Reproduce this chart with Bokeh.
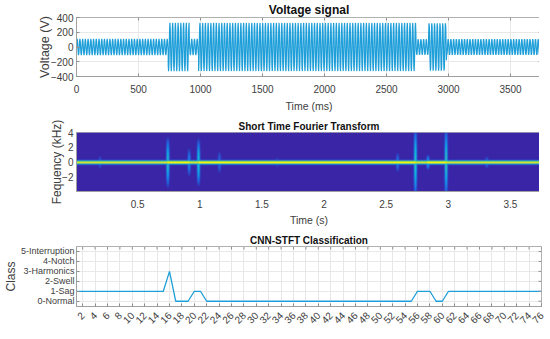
from bokeh.plotting import figure
from bokeh.layouts import column
from bokeh.models import FixedTicker, Range1d
from bokeh.embed import file_html
from bokeh.resources import INLINE
import numpy as np

# Voltage signal: envelope
seg_start_ms = [0, 740, 910, 985, 2740, 2840, 2985]
seg_end_ms = [740, 910, 985, 2740, 2840, 2985, 3750]
seg_amp_v = [110, 330, 110, 330, 110, 330, 110]
cycle_ms = 22.0
volt_xticks = [0, 500, 1000, 1500, 2000, 2500, 3000, 3500]
volt_yticks = [-400, -200, 0, 200, 400]

# STFT: ridge events
spike_t = [0.19, 0.74, 0.91, 0.985, 1.16, 1.62, 2.59, 2.74, 2.84, 2.985, 3.31]
spike_reach_khz = [1.0, 3.6, 2.0, 3.4, 1.6, 0.8, 1.4, 5.0, 1.1, 5.0, 0.9]
spike_level = [0.25, 0.62, 0.42, 0.62, 0.3, 0.2, 0.35, 0.65, 0.5, 0.65, 0.32]

# Classification
win = list(range(1, 77))
cls = [1]*15 + [3, 0, 0, 0, 1, 1] + [0]*34 + [1, 1, 1, 0, 0] + [1]*16
class_labels = {0: "0-Normal", 1: "1-Sag", 2: "2-Swell", 3: "3-Harmonics", 4: "4-Notch", 5: "5-Interruption"}
win_ticks = list(range(2, 77, 2))

FONT = "Liberation Sans"
TXT = "#404040"
BLUE = "#1f9fd9"
TICK = "#909090"

def style(p, title, tsize):
    p.title.text = title
    p.title.align = "center"
    p.title.text_font = FONT
    p.title.text_font_size = tsize
    p.title.text_color = "#111111"
    p.title.standoff = 1
    p.min_border_left = 68
    p.min_border_right = 6
    for ax in p.axis:
        ax.major_label_text_font = FONT
        ax.major_label_text_font_size = "10px"
        ax.major_label_text_color = TXT
        ax.axis_label_text_font = FONT
        ax.axis_label_text_font_size = "10.5px"
        ax.axis_label_text_font_style = "normal"
        ax.axis_label_text_color = TXT
        ax.axis_line_color = "#a0a0a0"
        ax.major_tick_line_color = TICK
        ax.major_tick_in = 3
        ax.major_tick_out = 0
        ax.minor_tick_line_color = None
        ax.major_label_standoff = 3
        ax.axis_label_standoff = 0
    p.xaxis.major_label_standoff = 8
    p.xaxis.axis_label_standoff = 4
    p.grid.grid_line_color = "#e8e8e8"
    p.outline_line_color = "#b0b0b0"

def mirror(p, xticks, yticks, xlo, xhi, ylo, yhi, wpx, hpx):
    # tick marks on the top and right edges of the box
    dy = 3 * (yhi - ylo) / hpx
    dx = 3 * (xhi - xlo) / wpx
    p.segment(xticks, [yhi] * len(xticks), xticks, [yhi - dy] * len(xticks), line_color=TICK, line_width=1)
    p.segment([xhi] * len(yticks), yticks, [xhi - dx] * len(yticks), yticks, line_color=TICK, line_width=1)

FW = 465
# --- top
p1 = figure(frame_width=FW, frame_height=59, output_backend="svg", toolbar_location=None,
            x_range=Range1d(0, 3750), y_range=Range1d(-400, 400),
            x_axis_label="Time (ms)", y_axis_label="Voltage (V)",
            min_border_top=17, min_border_bottom=37)
xs, ys = [], []
for a, b, amp in zip(seg_start_ms, seg_end_ms, seg_amp_v):
    t = np.arange(a, b, cycle_ms / 8)
    xs.extend(t.tolist())
    ys.extend((amp * np.sin(2 * np.pi * t / cycle_ms)).tolist())
p1.line(xs, ys, line_color=BLUE, line_width=1.2)
style(p1, "Voltage signal", "12px")
p1.xaxis.ticker = FixedTicker(ticks=volt_xticks)
p1.yaxis.ticker = FixedTicker(ticks=volt_yticks)
p1.yaxis.axis_label_text_font_size = "12.5px"
p1.yaxis.axis_label_standoff = -4
mirror(p1, volt_xticks, volt_yticks, 0, 3750, -400, 400, 465, 59)

# --- middle
p2 = figure(frame_width=FW, frame_height=59, output_backend="svg", toolbar_location=None,
            x_range=Range1d(0.007, 3.75), y_range=Range1d(-3.9, 4),
            x_axis_label="Time (s)", y_axis_label="Fequency (kHz)",
            min_border_top=18, min_border_bottom=37)
nt, nf = 470, 120
tt = np.linspace(0.007, 3.75, nt)
ff = np.linspace(-3.9, 4, nf)
T, F = np.meshgrid(tt, ff)
Z = 0.02 + 0 * T
for t0, reach, lev in zip(spike_t, spike_reach_khz, spike_level):
    Z = np.maximum(Z, lev * np.exp(-((T - t0) / 0.012) ** 2) * np.clip(1 - (np.abs(F) / reach) ** 2, 0, 1))
core = 0.86 + 0 * T
for a, b, amp in zip(seg_start_ms, seg_end_ms, seg_amp_v):
    core[(T >= a / 1000) & (T < b / 1000)] = 1.0 if amp > 200 else 0.9
Z = np.maximum(Z, core * np.minimum(1.0, 1.5 * np.exp(-(F / 0.24) ** 2)))
stops = [0, 0.3, 0.55, 0.75, 0.88, 1]
cols = np.array([[0x3b, 0x20, 0xa2], [0x1f, 0x6f, 0xe8], [0x10, 0xb8, 0xd8], [0x70, 0xd0, 0x70], [0xc8, 0xe0, 0x30], [0xf5, 0xf0, 0x10]])
rgb = np.stack([np.interp(Z, stops, cols[:, i]) for i in range(3)], axis=-1).astype(np.uint8)
img = np.zeros((nf, nt), dtype=np.uint32)
view = img.view(dtype=np.uint8).reshape((nf, nt, 4))
view[..., :3] = rgb
view[..., 3] = 255
p2.image_rgba(image=[img], x=0.007, y=-3.9, dw=3.743, dh=7.9)
style(p2, "Short Time Fourier Transform", "10px")
p2.xaxis.ticker = FixedTicker(ticks=[0.5, 1, 1.5, 2, 2.5, 3, 3.5])
p2.xaxis.major_label_overrides = {0.5: "0.5", 1: "1", 1.5: "1.5", 2: "2", 2.5: "2.5", 3: "3", 3.5: "3.5"}
p2.xaxis.major_label_standoff = 8
p2.xaxis.axis_label_standoff = 3
p2.yaxis.ticker = FixedTicker(ticks=[-2, 0, 2, 4])
p2.yaxis.axis_label_text_font_size = "12px"
p2.yaxis.axis_label_standoff = -5
p2.grid.visible = False
p2.xaxis.major_tick_line_color = None
p2.yaxis.major_tick_line_color = None

# --- bottom
p3 = figure(frame_width=FW, frame_height=60, output_backend="svg", toolbar_location=None,
            x_range=Range1d(1, 76), y_range=Range1d(-0.53, 5.5),
            y_axis_label="Class", min_border_top=18, min_border_bottom=18)
p3.line(win, cls, line_color=BLUE, line_width=1.3)
style(p3, "CNN-STFT Classification", "10px")
p3.xaxis.ticker = FixedTicker(ticks=win_ticks)
p3.xaxis.major_label_orientation = np.pi / 4
p3.xaxis.major_label_standoff = 7
p3.yaxis.ticker = FixedTicker(ticks=list(class_labels))
p3.yaxis.major_label_overrides = class_labels
p3.yaxis.major_label_text_font_size = "9px"
p3.yaxis.major_label_standoff = 2
p3.yaxis.axis_label_text_font_size = "12px"
mirror(p3, win_ticks, list(class_labels), 1, 76, -0.53, 5.5, 465, 60)

layout = column(p1, p2, p3, spacing=0)
open("out.html", "w").write(file_html(layout, INLINE))
